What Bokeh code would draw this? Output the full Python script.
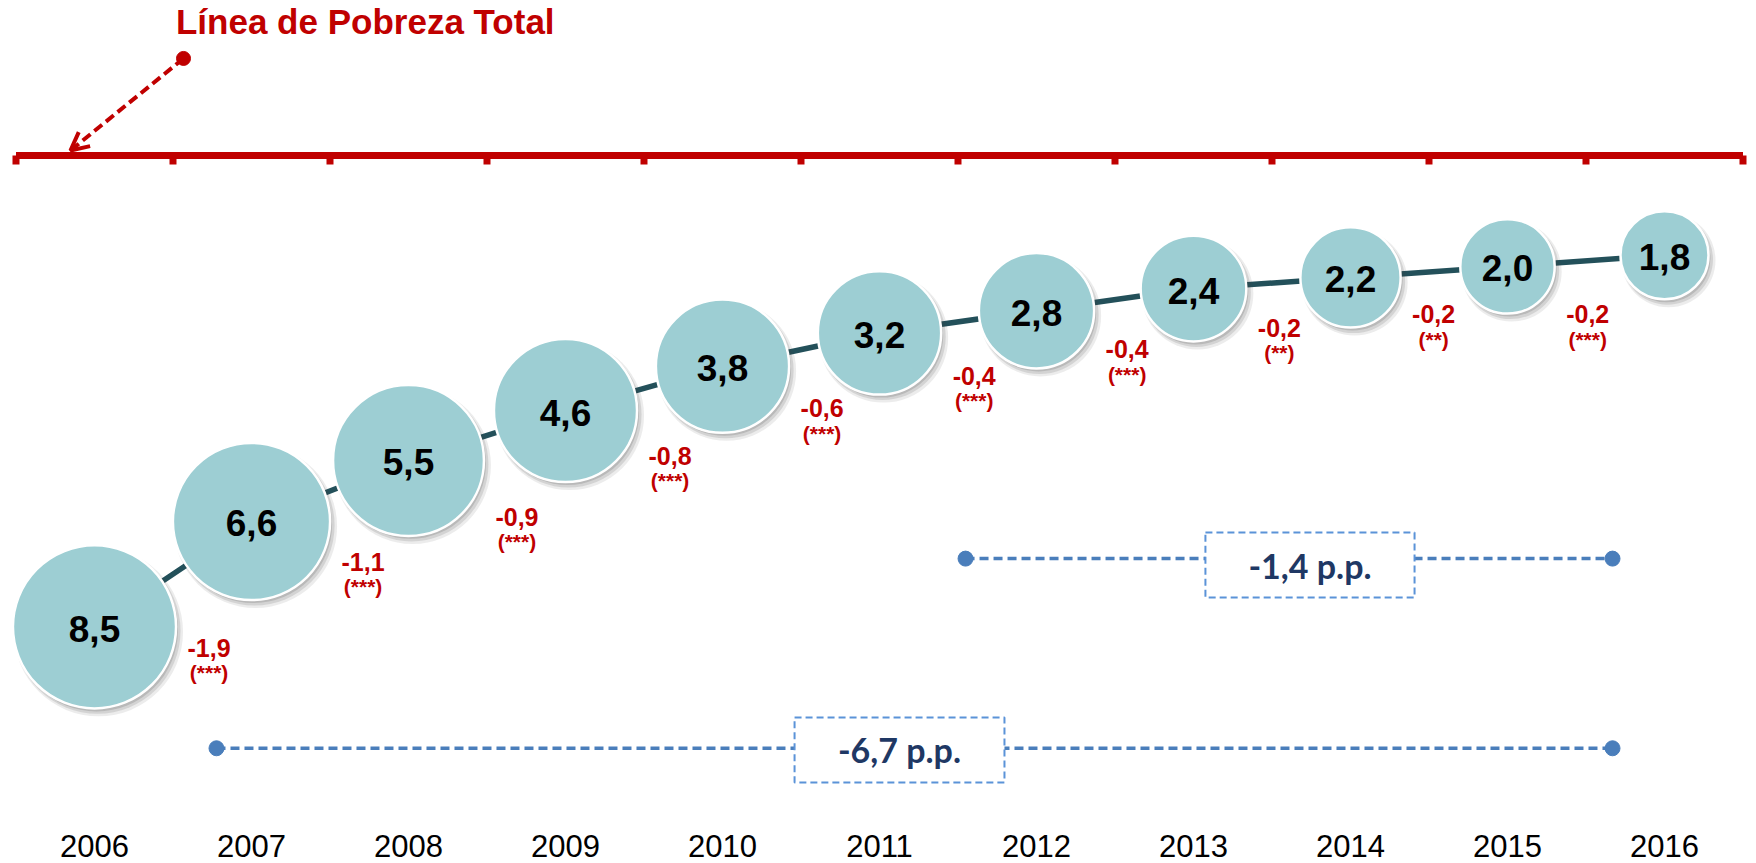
import math
from bokeh.plotting import figure
from bokeh.models import ColumnDataSource, Range1d, Arrow, OpenHead
from bokeh.core.properties import value
from bokeh.embed import file_html
from bokeh.resources import INLINE

# ---------------- data ----------------
years = ["2006", "2007", "2008", "2009", "2010", "2011", "2012", "2013", "2014", "2015", "2016"]
poverty = [8.5, 6.6, 5.5, 4.6, 3.8, 3.2, 2.8, 2.4, 2.2, 2.0, 1.8]
changes = [-1.9, -1.1, -0.9, -0.8, -0.6, -0.4, -0.4, -0.2, -0.2, -0.2]
signif = ["(***)", "(***)", "(***)", "(***)", "(***)", "(***)", "(***)", "(**)", "(**)", "(***)"]
periods = [("2006", "2016"), ("2011", "2016")]
title_text = "Línea de Pobreza Total"

# ---------------- styles / layout ----------------
RED = "#C00000"
BUBBLE = "#9DCED3"
LINK = "#23505A"
BLUE = "#4A7EBB"
BOX_BLUE = "#5B93D8"
NAVY = "#1F3864"

W, H = 1756, 863
X0, X1 = -0.5987, 10.586
Y_TOP, Y_BOT = -2.795, 12.768
PX_X = W / (X1 - X0)
PX_Y = H / (Y_BOT - Y_TOP)
label_nudge = [0, 0, 14, 4, 0, 0, 0, 0, 0, 14]   # extra downward px per change label


def fmt(v):
    return f"{v:.1f}".replace(".", ",")


def radius(v):
    return 84 - 40 * math.exp(-(v - 1.8) / 2.4)


idx = list(range(len(years)))
rad = [radius(v) for v in poverty]

p = figure(width=W, height=H,
           x_range=Range1d(X0, X1), y_range=Range1d(Y_BOT, Y_TOP),
           output_backend="svg", toolbar_location=None,
           x_axis_location=None, y_axis_location=None,
           min_border=0, outline_line_color=None)
p.xgrid.visible = False
p.ygrid.visible = False
p.background_fill_color = "white"
p.border_fill_color = "white"

# category labels (years) along the bottom, placed with the x scale
p.text(x=idx, y=[(845 / PX_Y) + Y_TOP] * len(idx), text=years,
       text_align="center", text_baseline="middle",
       text_font=value("Liberation Sans"), text_font_size="31px", text_color="black")

# poverty line (y = 0) with category boundary ticks
p.segment(x0=[-0.5], y0=[0], x1=[len(years) - 0.5], y1=[0], line_color=RED, line_width=7)
bounds = [i - 0.5 for i in range(len(years) + 1)]
p.segment(x0=bounds, y0=[0] * len(bounds), x1=bounds, y1=[9 / PX_Y] * len(bounds),
          line_color=RED, line_width=7, line_cap="butt")

# title + dashed arrow
p.text(x=[0.519], y=[-2.417], text=[title_text], text_align="left", text_baseline="middle",
       text_font=value("Liberation Sans"), text_font_style="bold", text_font_size="35px",
       text_color=RED)
arrow_start = (0.567, -1.75)
arrow_end = (-0.153, -0.09)
p.add_layout(Arrow(x_start=arrow_start[0], y_start=arrow_start[1],
                   x_end=arrow_end[0], y_end=arrow_end[1],
                   line_color=RED, line_width=4, line_dash="10 5",
                   end=OpenHead(size=18, line_color=RED, line_width=4)))
p.scatter(x=[arrow_start[0]], y=[arrow_start[1]], size=14, color=RED)

# connecting line
p.line(x=idx, y=poverty, line_color=LINK, line_width=5.5)

# bubble shadows
for dx, dy, grow, alpha in [(4, 5, 3, 0.10), (3, 4, 1.5, 0.14), (2, 3, 0, 0.18)]:
    p.scatter(x=[i + dx / PX_X for i in idx], y=[v + dy / PX_Y for v in poverty],
              size=[2 * (r + grow) for r in rad], marker="circle",
              fill_color="#404040", fill_alpha=alpha, line_color=None)

# bubbles
src = ColumnDataSource(dict(x=idx, y=poverty, size=[2 * r for r in rad],
                            label=[fmt(v) for v in poverty]))
p.scatter(x="x", y="y", size="size", source=src, marker="circle",
          fill_color=BUBBLE, line_color="white", line_width=2.5)
p.text(x="x", y="y", text="label", source=src, text_align="center", text_baseline="middle",
       y_offset=2, text_font=value("Liberation Sans"), text_font_style="bold",
       text_font_size="37px", text_color="black")

# change labels
mids = [(poverty[i] + poverty[i + 1]) / 2 for i in range(len(changes))]
csrc = ColumnDataSource(dict(
    x=idx[:-1], y=mids,
    val=[fmt(c) for c in changes], sig=signif,
    xo=[rad[i] + 33 for i in range(len(changes))],
    yo=[rad[i] - 8 + label_nudge[i] for i in range(len(changes))],
    yo2=[rad[i] + 17 + label_nudge[i] for i in range(len(changes))],
))
p.text(x="x", y="y", text="val", source=csrc, x_offset="xo", y_offset="yo",
       text_align="center", text_baseline="middle",
       text_font=value("Liberation Sans"), text_font_style="bold",
       text_font_size="25px", text_color=RED)
p.text(x="x", y="y", text="sig", source=csrc, x_offset="xo", y_offset="yo2",
       text_align="center", text_baseline="middle",
       text_font=value("Liberation Sans"), text_font_style="bold",
       text_font_size="21px", text_color=RED)

# period comparison brackets
bracket_layout = [
    dict(y=10.69, x0=0.777, x1=9.669, box=(4.459, 5.796, 10.135, 11.307), tx=5.127, ty=10.72),
    dict(y=7.27, x0=5.548, x1=9.669, box=(7.076, 8.408, 6.799, 7.971), tx=7.742, ty=7.385),
]
for (a, b), lay in zip(periods, bracket_layout):
    diff = poverty[years.index(b)] - poverty[years.index(a)]
    p.segment(x0=[lay["x0"]], y0=[lay["y"]], x1=[lay["x1"]], y1=[lay["y"]],
              line_color=BLUE, line_width=3.5, line_dash="9 5")
    p.scatter(x=[lay["x0"], lay["x1"]], y=[lay["y"], lay["y"]], size=15, color=BLUE)
    l, r, t, btm = lay["box"]
    p.quad(left=[l], right=[r], top=[t], bottom=[btm], fill_color="white",
           line_color=BOX_BLUE, line_width=2, line_dash="7 4")
    p.text(x=[lay["tx"]], y=[lay["ty"]], text=[f"{fmt(diff)} p.p."], text_align="center",
           text_baseline="middle", text_font=value("Lato"), text_font_style="bold",
           text_font_size="34px", text_color=NAVY)

open("out.html", "w").write(file_html(p, INLINE))
